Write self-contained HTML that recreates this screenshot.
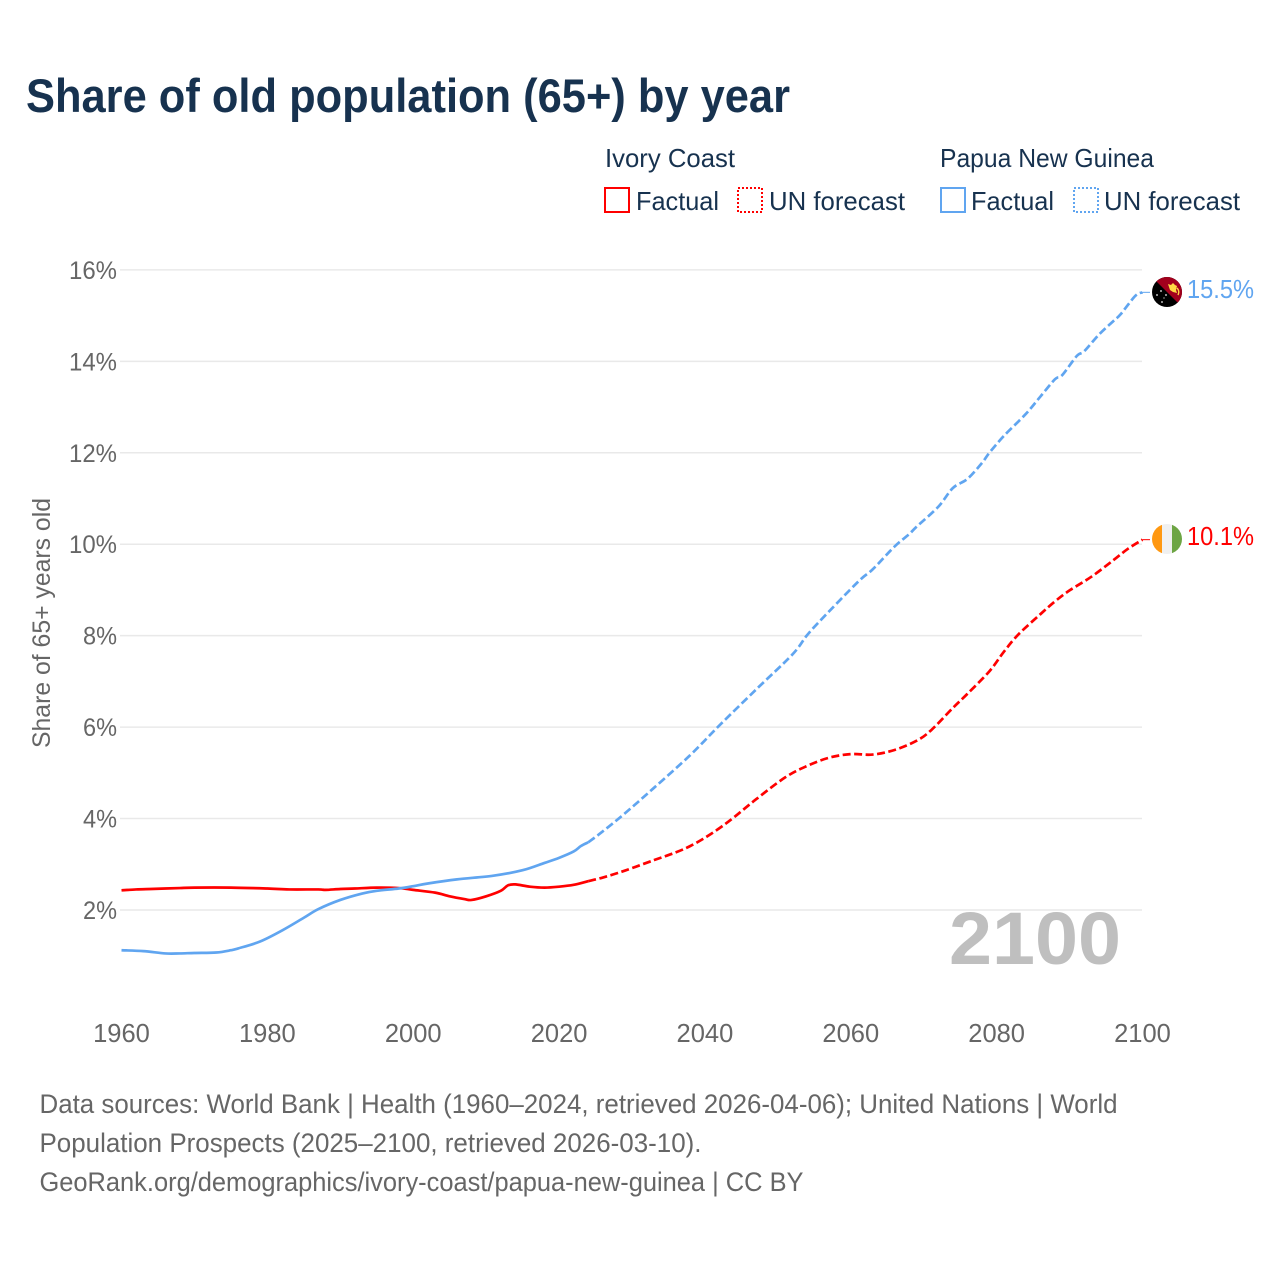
<!DOCTYPE html>
<html lang="en">
<head>
<meta charset="utf-8">
<title>Share of old population (65+) by year</title>
<style>
html,body{margin:0;padding:0;background:#fff;}
svg{display:block;}
text{font-family:"Liberation Sans",sans-serif;}
</style>
</head>
<body>
<svg id="chart" xmlns="http://www.w3.org/2000/svg" width="1280" height="1280" viewBox="0 0 1280 1280">
  <text x="26" y="112" font-size="47" font-weight="700" fill="#17324f" textLength="764" lengthAdjust="spacingAndGlyphs">Share of old population (65+) by year</text>

  <g font-size="26" fill="#17324f">
    <text x="605" y="167" textLength="130" lengthAdjust="spacingAndGlyphs">Ivory Coast</text>
    <rect x="605" y="188" width="24" height="24" fill="none" stroke="#ff0000" stroke-width="2"/>
    <text x="636" y="210" textLength="83" lengthAdjust="spacingAndGlyphs">Factual</text>
    <rect x="738" y="188" width="24" height="24" fill="none" stroke="#ff0000" stroke-width="2" stroke-dasharray="2 2"/>
    <text x="769" y="210" textLength="136" lengthAdjust="spacingAndGlyphs">UN forecast</text>

    <text x="940" y="167" textLength="214" lengthAdjust="spacingAndGlyphs">Papua New Guinea</text>
    <rect x="941" y="188" width="24" height="24" fill="none" stroke="#60a5f0" stroke-width="2"/>
    <text x="971" y="210" textLength="83" lengthAdjust="spacingAndGlyphs">Factual</text>
    <rect x="1074" y="188" width="24" height="24" fill="none" stroke="#60a5f0" stroke-width="2" stroke-dasharray="2 2"/>
    <text x="1104" y="210" textLength="136" lengthAdjust="spacingAndGlyphs">UN forecast</text>
  </g>

  <g id="grid"></g>
  <g id="yAxis"></g>
  <g id="xAxis"></g>

  <text transform="translate(50,623) rotate(-90)" text-anchor="middle" font-size="25" fill="#666666" textLength="250" lengthAdjust="spacingAndGlyphs">Share of 65+ years old</text>

  <text x="949" y="964" font-size="74" font-weight="700" fill="#bfbfbf" textLength="172" lengthAdjust="spacingAndGlyphs">2100</text>

  <g id="series"></g>

  <defs>
    <clipPath id="flagClipPng"><circle cx="1167" cy="292" r="15"/></clipPath>
    <clipPath id="flagClipCiv"><circle cx="1167" cy="539" r="15"/></clipPath>
  </defs>
  <g clip-path="url(#flagClipPng)">
    <rect x="1152" y="277" width="30" height="30" fill="#000000"/>
    <polygon points="1152,277 1182,277 1182,307" fill="#a2001d"/>
    <polygon points="1168,284 1171,285 1173,283 1175,285 1177,286 1176,290 1177,293 1173,292 1170,290" fill="#ffda44"/>
    <path d="M1177,288 q3,3 1,7" fill="none" stroke="#ffda44" stroke-width="1.4"/>
    <g fill="#f0f0f0">
      <circle cx="1161" cy="291" r="0.9"/><circle cx="1157" cy="295" r="0.9"/><circle cx="1166" cy="295" r="0.9"/><circle cx="1162" cy="302" r="0.9"/><circle cx="1164" cy="298" r="0.6"/>
    </g>
  </g>
  <g clip-path="url(#flagClipCiv)">
    <rect x="1152" y="524" width="10" height="30" fill="#ff9811"/>
    <rect x="1162" y="524" width="10" height="30" fill="#f0f0f0"/>
    <rect x="1172" y="524" width="10" height="30" fill="#6da544"/>
  </g>

  <text x="1187" y="298" font-size="26" fill="#60a5f0" textLength="67" lengthAdjust="spacingAndGlyphs">15.5%</text>
  <text x="1187" y="545" font-size="26" fill="#ff0000" textLength="67" lengthAdjust="spacingAndGlyphs">10.1%</text>

  <g font-size="26.5" fill="#666666">
    <text x="39.5" y="1113" textLength="1078" lengthAdjust="spacingAndGlyphs">Data sources: World Bank | Health (1960–2024, retrieved 2026-04-06); United Nations | World</text>
    <text x="39.5" y="1152" textLength="662" lengthAdjust="spacingAndGlyphs">Population Prospects (2025–2100, retrieved 2026-03-10).</text>
    <text x="39.5" y="1191" textLength="764" lengthAdjust="spacingAndGlyphs">GeoRank.org/demographics/ivory-coast/papua-new-guinea | CC BY</text>
  </g>
</svg>

<script>
var xTicks = [1960, 1980, 2000, 2020, 2040, 2060, 2080, 2100];
var yTicks = [2, 4, 6, 8, 10, 12, 14, 16];

var civFactualYears = [1960,1962,1964,1966,1968,1970,1975,1980,1983,1987,1988,1990,1992,1995,1998,2000,2003,2005,2007,2008,2010,2012,2013,2014,2016,2018,2020,2022,2024];
var civFactualValues = [2.43,2.45,2.46,2.47,2.48,2.49,2.49,2.47,2.45,2.45,2.44,2.46,2.47,2.49,2.48,2.44,2.38,2.30,2.24,2.22,2.30,2.42,2.54,2.56,2.51,2.49,2.51,2.55,2.63];

var civForecastYears = [2024,2026,2029,2033,2036,2038,2040,2042,2044,2047,2051,2054,2057,2060,2063,2066,2069,2071,2074,2076,2079,2081,2083,2086,2088,2090,2093,2096,2098,2100];
var civForecastValues = [2.63,2.71,2.86,3.09,3.26,3.40,3.58,3.79,4.03,4.42,4.90,5.15,5.33,5.41,5.40,5.50,5.70,5.93,6.42,6.73,7.22,7.65,8.03,8.47,8.75,8.99,9.29,9.65,9.90,10.10];

var pngFactualYears = [1960,1963,1966,1968,1970,1973,1975,1976,1979,1982,1985,1987,1990,1993,1995,1998,2000,2002,2006,2011,2015,2018,2020,2022,2023,2024];
var pngFactualValues = [1.12,1.10,1.05,1.05,1.06,1.07,1.12,1.16,1.31,1.55,1.83,2.02,2.22,2.36,2.42,2.47,2.52,2.58,2.67,2.75,2.87,3.03,3.14,3.28,3.40,3.48];

var pngForecastYears = [2024,2026,2029,2033,2038,2042,2047,2052,2054,2056,2061,2063,2066,2068,2069,2072,2074,2076,2078,2079,2081,2084,2086,2088,2089,2091,2092,2094,2096,2097,2099,2100];
var pngForecastValues = [3.48,3.72,4.11,4.67,5.39,6.04,6.82,7.59,8.01,8.36,9.18,9.45,9.95,10.22,10.38,10.82,11.23,11.43,11.78,12.00,12.37,12.85,13.23,13.61,13.70,14.12,14.22,14.58,14.88,15.03,15.43,15.51];

var seriesColorCiv = '#ff0000';
var seriesColorPng = '#60a5f0';

function xScale(year) { return 121.5 + (year - 1960) * (1142.5 - 121.5) / 140; }
function yScale(value) { return 910 - (value - 2) * 45.72; }

var NS = 'http://www.w3.org/2000/svg';

function smoothPath(years, values) {
  var pts = years.map(function (yr, i) { return [xScale(yr), yScale(values[i])]; });
  var d = 'M' + pts[0][0].toFixed(2) + ',' + pts[0][1].toFixed(2);
  for (var i = 0; i < pts.length - 1; i++) {
    var p0 = pts[Math.max(0, i - 1)], p1 = pts[i], p2 = pts[i + 1], p3 = pts[Math.min(pts.length - 1, i + 2)];
    var c1x = p1[0] + (p2[0] - p0[0]) / 6, c1y = p1[1] + (p2[1] - p0[1]) / 6;
    var c2x = p2[0] - (p3[0] - p1[0]) / 6, c2y = p2[1] - (p3[1] - p1[1]) / 6;
    d += 'C' + c1x.toFixed(2) + ',' + c1y.toFixed(2) + ' ' + c2x.toFixed(2) + ',' + c2y.toFixed(2) + ' ' + p2[0].toFixed(2) + ',' + p2[1].toFixed(2);
  }
  return d;
}

var grid = document.getElementById('grid');
var yAxis = document.getElementById('yAxis');
var xAxis = document.getElementById('xAxis');
var seriesGroup = document.getElementById('series');

yTicks.forEach(function (t) {
  var line = document.createElementNS(NS, 'line');
  
  
  line.setAttribute('x1', 120);
  line.setAttribute('x2', 1142);
  line.setAttribute('y1', yScale(t));
  line.setAttribute('y2', yScale(t));
  line.setAttribute('stroke', '#e9e9e9');
  line.setAttribute('stroke-width', '1.5');
  grid.appendChild(line);

  var label = document.createElementNS(NS, 'text');
  
  
  label.setAttribute('x', 117);
  label.setAttribute('y', yScale(t) + 9);
  label.setAttribute('text-anchor', 'end');
  label.setAttribute('font-size', '25');
  label.setAttribute('fill', '#666666');
  label.setAttribute('textLength', t >= 10 ? 48 : 34);
  label.setAttribute('lengthAdjust', 'spacingAndGlyphs');
  label.textContent = t + '%';
  yAxis.appendChild(label);
});

xTicks.forEach(function (t) {
  var label = document.createElementNS(NS, 'text');
  
  
  label.setAttribute('x', xScale(t));
  label.setAttribute('y', 1042);
  label.setAttribute('text-anchor', 'middle');
  label.setAttribute('font-size', '25.5');
  label.setAttribute('fill', '#666666');
  label.textContent = String(t);
  xAxis.appendChild(label);
});

function addLine(name, years, values, color, dashed) {
  var path = document.createElementNS(NS, 'path');
  
  
  path.setAttribute('d', smoothPath(years, values));
  path.setAttribute('fill', 'none');
  path.setAttribute('stroke', color);
  path.setAttribute('stroke-width', '2.7');
  if (dashed) { path.setAttribute('stroke-dasharray', '8 3.5'); }
  seriesGroup.appendChild(path);
}

function addConnector(name, years, values, color, flagX) {
  var last = values.length - 1;
  var line = document.createElementNS(NS, 'line');
  
  
  line.setAttribute('x1', xScale(years[last]));
  line.setAttribute('x2', flagX);
  line.setAttribute('y1', yScale(values[last]));
  line.setAttribute('y2', yScale(values[last]));
  line.setAttribute('stroke', color);
  line.setAttribute('stroke-width', '1');
  seriesGroup.appendChild(line);
}

addLine('ivory-coast-forecast-line', civForecastYears, civForecastValues, seriesColorCiv, true);
addLine('papua-new-guinea-forecast-line', pngForecastYears, pngForecastValues, seriesColorPng, true);
addLine('ivory-coast-factual-line', civFactualYears, civFactualValues, seriesColorCiv, false);
addLine('papua-new-guinea-factual-line', pngFactualYears, pngFactualValues, seriesColorPng, false);
addConnector('ivory-coast-connector', civForecastYears, civForecastValues, seriesColorCiv, 1150);
addConnector('papua-new-guinea-connector', pngForecastYears, pngForecastValues, seriesColorPng, 1150);
</script>
</body>
</html>
